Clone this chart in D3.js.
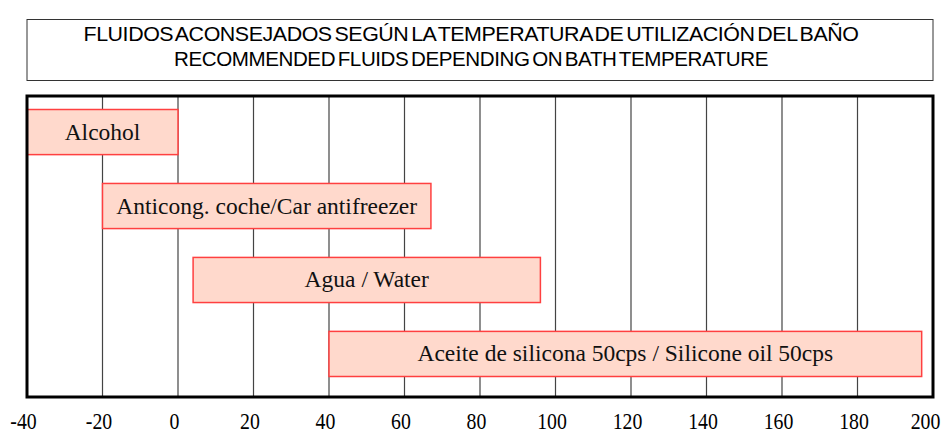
<!DOCTYPE html>
<html>
<head>
<meta charset="utf-8">
<script src="https://cdn.jsdelivr.net/npm/d3@7"></script>
<style>
  body { margin: 0; background: #fff; }
  svg { display: block; }
</style>
</head>
<body>
<div id="chart"></div>
<script>
// fluids and the temperature range each one is used for
const fluids = ["Alcohol", "Anticong. coche/Car antifreezer", "Agua / Water", "Aceite de silicona 50cps / Silicone oil 50cps"];
const tempFrom = [-40, -20, 4, 40];
const tempTo = [0, 67, 96, 197];
const tickValues = [-40, -20, 0, 20, 40, 60, 80, 100, 120, 140, 160, 180, 200];
const titleLines = ["FLUIDOS ACONSEJADOS SEGÚN LA TEMPERATURA DE UTILIZACIÓN DEL BAÑO",
                    "RECOMMENDED FLUIDS DEPENDING ON BATH TEMPERATURE"];

const W = 946, H = 435;
const svg = d3.select("#chart").append("svg")
    .attr("width", W)
    .attr("height", H);

// title box
svg.append("rect")
    .attr("x", 27).attr("y", 19.5)
    .attr("width", 906).attr("height", 61)
    .attr("fill", "#fff")
    .attr("stroke", "#333")
    .attr("stroke-width", 1);

// condensed title: bigger glyphs squeezed into the original widths
const titleLen = [775, 594];
svg.selectAll(".title")
    .data(titleLines)
    .enter().append("text")
    .attr("class", "title")
    .attr("x", 471)
    .attr("y", (d, i) => 40.5 + i * 25)
    .attr("text-anchor", "middle")
    .attr("font-family", "Liberation Sans, Arial, sans-serif")
    .attr("font-size", 19.5)
    .attr("word-spacing", -2.5)
    .attr("letter-spacing", -0.4)
    .attr("textLength", (d, i) => titleLen[i])
    .attr("lengthAdjust", "spacingAndGlyphs")
    .attr("fill", "#000")
    .text(d => d);

const plot = { left: 27, top: 96, right: 933, bottom: 397 };

const x = d3.scaleLinear().domain([-40, 200]).range([plot.left, plot.right]);
const y = d3.scaleBand().domain(fluids).range([109.5, 376.5]).paddingInner(0.39).paddingOuter(0);

// vertical grid
svg.append("g")
    .selectAll("line")
    .data(tickValues.slice(1, -1))
    .enter().append("line")
    .attr("x1", d => x(d)).attr("x2", d => x(d))
    .attr("y1", plot.top).attr("y2", plot.bottom)
    .attr("stroke", "#444")
    .attr("stroke-width", 1.2);

// bars
const bars = svg.append("g");
bars.selectAll("rect")
    .data(fluids)
    .enter().append("rect")
    .attr("x", (d, i) => x(tempFrom[i]))
    .attr("y", d => y(d))
    .attr("width", (d, i) => x(tempTo[i]) - x(tempFrom[i]))
    .attr("height", y.bandwidth())
    .attr("fill", "#ffd9cc")
    .attr("stroke", "#ff4040")
    .attr("stroke-width", 1.5);

bars.selectAll("text")
    .data(fluids)
    .enter().append("text")
    .attr("x", (d, i) => (x(tempFrom[i]) + x(tempTo[i])) / 2)
    .attr("y", d => y(d) + y.bandwidth() / 2 + 7.5)
    .attr("text-anchor", "middle")
    .attr("font-family", "Liberation Serif, Times New Roman, serif")
    .attr("font-size", 23.5)
    .attr("fill", "#111")
    .text(d => d);

// frame
svg.append("rect")
    .attr("x", plot.left).attr("y", plot.top)
    .attr("width", plot.right - plot.left)
    .attr("height", plot.bottom - plot.top)
    .attr("fill", "none")
    .attr("stroke", "#000")
    .attr("stroke-width", 3);

// x axis labels (plain hyphen, slightly condensed digits as in the original)
const axis = svg.append("g")
    .attr("transform", `translate(-4,${plot.bottom})`)
    .call(d3.axisBottom(x).tickValues(tickValues).tickSize(0).tickPadding(0).tickFormat(d => String(d)));
axis.select(".domain").remove();
axis.selectAll("text")
    .attr("dy", null)
    .attr("y", 31.5)
    .attr("font-family", "Liberation Serif, Times New Roman, serif")
    .attr("font-size", 23)
    .attr("fill", "#000")
    .each(function(d) {
        const len = this.getComputedTextLength();
        d3.select(this)
            .attr("x", d === 200 ? -4 : 0)
            .attr("textLength", len * 0.86)
            .attr("lengthAdjust", "spacingAndGlyphs");
    });
</script>
</body>
</html>
